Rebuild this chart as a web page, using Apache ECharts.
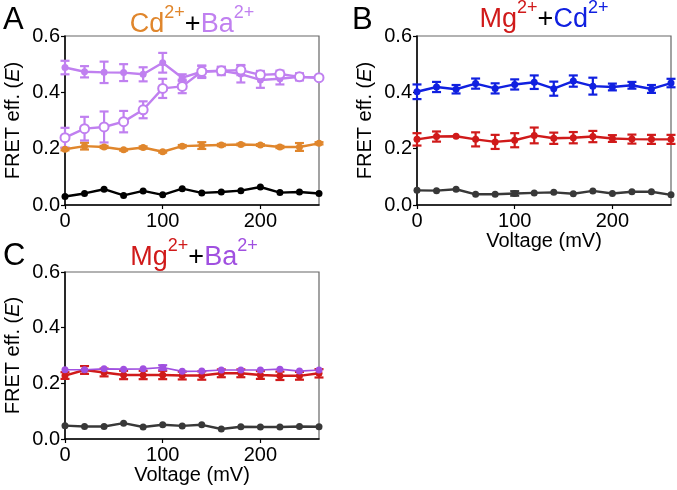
<!DOCTYPE html>
<html>
<head>
<meta charset="utf-8">
<script src="https://cdn.jsdelivr.net/npm/echarts@6/dist/echarts.min.js"></script>
<style>
  html, body { margin: 0; padding: 0; background: #fff; }
  #chart { width: 677px; height: 490px; }
</style>
</head>
<body>
<div id="chart"></div>
<script>
// voltage steps (mV)
var volts = [0, 20, 40, 60, 80, 100, 120, 140, 160, 180, 200, 220, 240, 260];
var yTicks = [0, 0.2, 0.4, 0.6];

// panel A : Cd2+ + Ba2+
var aBaFilled    = [0.488, 0.473, 0.471, 0.470, 0.464, 0.505, 0.452, 0.473, 0.476, 0.465, 0.444, 0.448, 0.455, 0.452];
var aBaFilledErr = [0.024, 0.020, 0.038, 0.030, 0.025, 0.035, 0.012, 0.022, 0.015, 0.030, 0.028, 0.020, 0.012, 0.004];
var aBaOpen      = [0.239, 0.271, 0.277, 0.296, 0.338, 0.414, 0.421, 0.474, 0.477, 0.479, 0.462, 0.465, 0.455, 0.452];
var aBaOpenErr   = [0.035, 0.042, 0.055, 0.038, 0.030, 0.034, 0.024, 0.020, 0.012, 0.018, 0.014, 0.012, 0.012, 0.004];
var aCd          = [0.198, 0.209, 0.206, 0.196, 0.204, 0.189, 0.209, 0.211, 0.213, 0.215, 0.213, 0.206, 0.206, 0.219];
var aCdErr       = [0.004, 0.012, 0.004, 0.003, 0.004, 0.003, 0.004, 0.012, 0.004, 0.003, 0.003, 0.004, 0.014, 0.004];
var aCtrl        = [0.030, 0.041, 0.056, 0.034, 0.050, 0.036, 0.058, 0.043, 0.046, 0.051, 0.064, 0.044, 0.046, 0.041];

// panel B : Mg2+ + Cd2+
var bCd     = [0.402, 0.419, 0.411, 0.431, 0.414, 0.428, 0.436, 0.413, 0.440, 0.422, 0.419, 0.425, 0.412, 0.433];
var bCdErr  = [0.026, 0.018, 0.015, 0.018, 0.018, 0.018, 0.024, 0.025, 0.020, 0.030, 0.012, 0.012, 0.014, 0.015];
var bMg     = [0.233, 0.243, 0.244, 0.233, 0.224, 0.230, 0.247, 0.237, 0.239, 0.243, 0.236, 0.234, 0.233, 0.233];
var bMgErr  = [0.022, 0.018, 0.000, 0.025, 0.025, 0.025, 0.028, 0.020, 0.020, 0.020, 0.012, 0.016, 0.016, 0.016];
var bCtrl   = [0.052, 0.051, 0.056, 0.038, 0.038, 0.041, 0.043, 0.045, 0.040, 0.050, 0.041, 0.047, 0.047, 0.036];
var bCtrlErr= [0, 0, 0, 0, 0, 0.008, 0, 0, 0, 0, 0, 0, 0, 0];

// panel C : Mg2+ + Ba2+
var cBa     = [0.249, 0.249, 0.252, 0.251, 0.252, 0.257, 0.243, 0.244, 0.248, 0.248, 0.248, 0.251, 0.244, 0.248];
var cBaErr  = [0, 0, 0, 0, 0, 0.008, 0, 0, 0, 0, 0, 0, 0, 0];
var cMg     = [0.228, 0.248, 0.239, 0.230, 0.230, 0.230, 0.228, 0.228, 0.236, 0.236, 0.230, 0.227, 0.227, 0.236];
var cMgErr  = [0.012, 0.014, 0.014, 0.015, 0.015, 0.015, 0.014, 0.015, 0.014, 0.014, 0.014, 0.015, 0.014, 0.015];
var cCtrl   = [0.048, 0.045, 0.045, 0.057, 0.043, 0.051, 0.047, 0.051, 0.036, 0.044, 0.043, 0.043, 0.045, 0.044];

var FONT = 'Liberation Sans, Arial, sans-serif';
var colPurple = '#c080f0', colOrange = '#e0862c', colBlue = '#1020e0',
    colRed = '#d01a1a', colPurple2 = '#a050e0', colGray = '#383838';

function pairs(vals) {
  return volts.map(function (v, i) { return [v, vals[i]]; });
}
function errData(vals, errs) {
  return volts.map(function (v, i) { return [v, vals[i], errs[i]]; });
}

function lineSeries(idx, vals, color, opts) {
  opts = opts || {};
  return {
    type: 'line',
    xAxisIndex: idx, yAxisIndex: idx,
    data: pairs(vals),
    symbol: 'circle',
    symbolSize: opts.size || 7,
    lineStyle: { color: color, width: opts.width || 2.4 },
    itemStyle: { color: opts.open ? '#fff' : color, borderColor: color, borderWidth: opts.open ? 2 : 0 },
    z: opts.z || 3,
    animation: false
  };
}

function errSeries(idx, vals, errs, color) {
  return {
    type: 'custom',
    xAxisIndex: idx, yAxisIndex: idx,
    data: errData(vals, errs),
    encode: { x: 0, y: 1 },
    z: 2,
    animation: false,
    renderItem: function (params, api) {
      var x = api.value(0), y = api.value(1), e = api.value(2);
      if (!e) return null;
      var top = api.coord([x, y + e]);
      var bot = api.coord([x, y - e]);
      var w = 4.5;
      var st = { stroke: color, lineWidth: 2.2 };
      return {
        type: 'group',
        children: [
          { type: 'line', shape: { x1: top[0], y1: top[1], x2: bot[0], y2: bot[1] }, style: st },
          { type: 'line', shape: { x1: top[0] - w, y1: top[1], x2: top[0] + w, y2: top[1] }, style: st },
          { type: 'line', shape: { x1: bot[0] - w, y1: bot[1], x2: bot[0] + w, y2: bot[1] }, style: st }
        ]
      };
    }
  };
}

function xAxis(idx, showName) {
  return {
    type: 'value', gridIndex: idx, min: 0, max: 260, interval: 100,
    name: showName ? 'Voltage (mV)' : '',
    nameLocation: 'middle', nameGap: 24,
    nameTextStyle: { fontFamily: FONT, fontSize: 20, color: '#000' },
    axisLine: { onZero: false, lineStyle: { color: '#000', width: 1.5 } },
    axisTick: { show: true, length: 4, lineStyle: { color: '#000', width: 1.2 } },
    axisLabel: { fontFamily: FONT, fontSize: 20, color: '#000', margin: 6, showMaxLabel: false },
    splitLine: { show: false }
  };
}

function yAxis(idx) {
  return {
    type: 'value', gridIndex: idx, min: 0, max: 0.6, interval: 0.2,
    name: 'FRET eff. ({i|E})',
    nameLocation: 'middle', nameGap: 42, nameRotate: 90,
    nameTextStyle: {
      fontFamily: FONT, fontSize: 20, color: '#000',
      rich: { i: { fontFamily: FONT, fontSize: 20, fontStyle: 'italic', color: '#000' } }
    },
    axisLine: { show: true, lineStyle: { color: '#000', width: 1.5 } },
    axisTick: { show: true, length: 4, lineStyle: { color: '#000', width: 1.2 } },
    axisLabel: {
      fontFamily: FONT, fontSize: 20, color: '#000', margin: 5,
      formatter: function (v) { return v.toFixed(1); }
    },
    splitLine: { show: false }
  };
}

function titleText(x, y, parts) {
  var rich = {
    m: { fontFamily: FONT, fontSize: 27, lineHeight: 34, verticalAlign: 'bottom' },
    s: { fontFamily: FONT, fontSize: 18, lineHeight: 18, verticalAlign: 'top' }
  };
  var txt = '';
  parts.forEach(function (p, i) {
    var mk = 'm' + i, sk = 's' + i;
    rich[mk] = Object.assign({}, rich.m, { fill: p.color, color: p.color });
    txt += '{' + mk + '|' + p.text + '}';
    if (p.sup) {
      rich[sk] = Object.assign({}, rich.s, { fill: p.color, color: p.color });
      txt += '{' + sk + '|' + p.sup + '}';
    }
  });
  return {
    type: 'text', x: x, y: y,
    style: { text: txt, rich: rich, align: 'center', verticalAlign: 'middle', font: '27px ' + FONT }
  };
}

function letter(x, y, t) {
  return { type: 'text', x: x, y: y, style: { text: t, fill: '#000', font: '31px ' + FONT } };
}

var option = {
  backgroundColor: '#fff',
  animation: false,
  grid: [
    { left: 65, top: 36, width: 254, height: 169, show: true, borderColor: '#666', borderWidth: 1.2 },
    { left: 417, top: 36, width: 254, height: 169, show: true, borderColor: '#666', borderWidth: 1.2 },
    { left: 65, top: 272, width: 254, height: 167, show: true, borderColor: '#666', borderWidth: 1.2 }
  ],
  xAxis: [xAxis(0, false), xAxis(1, true), xAxis(2, true)],
  yAxis: [yAxis(0), yAxis(1), yAxis(2)],
  graphic: [
    letter(3, 5, 'A'), letter(352, 5, 'B'), letter(3, 241, 'C'),
    titleText(192, 21, [
      { text: 'Cd', sup: '2+', color: colOrange },
      { text: '+', color: '#000' },
      { text: 'Ba', sup: '2+', color: colPurple }
    ]),
    titleText(544, 16, [
      { text: 'Mg', sup: '2+', color: colRed },
      { text: '+', color: '#000' },
      { text: 'Cd', sup: '2+', color: colBlue }
    ]),
    titleText(194, 254, [
      { text: 'Mg', sup: '2+', color: colRed },
      { text: '+', color: '#000' },
      { text: 'Ba', sup: '2+', color: colPurple2 }
    ])
  ],
  series: [
    // panel A
    lineSeries(0, aCtrl, '#000'),
    errSeries(0, aCd, aCdErr, colOrange),
    lineSeries(0, aCd, colOrange),
    errSeries(0, aBaFilled, aBaFilledErr, colPurple),
    lineSeries(0, aBaFilled, colPurple),
    errSeries(0, aBaOpen, aBaOpenErr, colPurple),
    lineSeries(0, aBaOpen, colPurple, { open: true, size: 9, z: 4 }),
    // panel B
    errSeries(1, bCtrl, bCtrlErr, colGray),
    lineSeries(1, bCtrl, colGray),
    errSeries(1, bMg, bMgErr, colRed),
    lineSeries(1, bMg, colRed),
    errSeries(1, bCd, bCdErr, colBlue),
    lineSeries(1, bCd, colBlue),
    // panel C
    lineSeries(2, cCtrl, colGray),
    errSeries(2, cMg, cMgErr, colRed),
    lineSeries(2, cMg, colRed),
    errSeries(2, cBa, cBaErr, colPurple2),
    lineSeries(2, cBa, colPurple2, { width: 1.6, z: 4 })
  ]
};

var chart = echarts.init(document.getElementById('chart'), null, { renderer: 'canvas' });
chart.setOption(option);
</script>
</body>
</html>
